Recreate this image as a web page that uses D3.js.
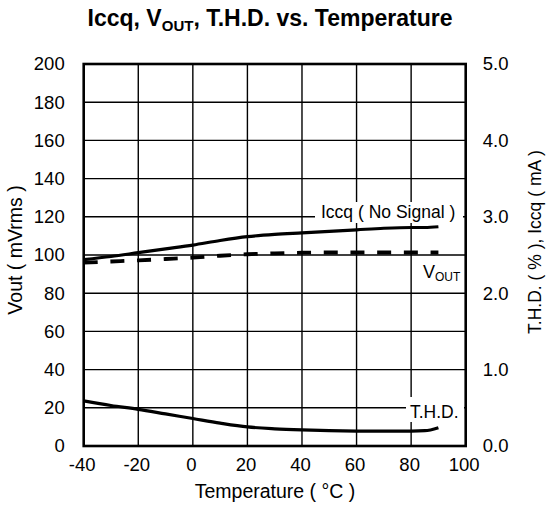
<!DOCTYPE html>
<html>
<head>
<meta charset="utf-8">
<script src="https://cdn.jsdelivr.net/npm/d3@7"></script>
<style>
  body { margin: 0; background: #fff; }
  svg text { font-family: "Liberation Sans", Arial, sans-serif; fill: #000; }
</style>
</head>
<body>
<svg id="chart" width="546" height="514"></svg>
<script>
// Temperature (°C)
const temps = [-40, -30, -20, -10, 0, 10, 20, 30, 40, 50, 60, 70, 80, 85, 90];
// Iccq (No Signal), mA (right axis)
const iccq = [2.44, 2.48, 2.53, 2.58, 2.63, 2.69, 2.74, 2.77, 2.79, 2.81, 2.83, 2.85, 2.86, 2.86, 2.87];
// Vout, mVrms (left axis)
const vout = [96.0, 96.6, 97.2, 97.9, 98.6, 99.6, 100.4, 100.9, 101.2, 101.3, 101.3, 101.3, 101.3, 101.3, 101.3];
// T.H.D., % (right axis)
const thd = [0.59, 0.53, 0.48, 0.42, 0.36, 0.30, 0.25, 0.225, 0.21, 0.2, 0.196, 0.195, 0.196, 0.2, 0.24];

const xTicks = [-40, -20, 0, 20, 40, 60, 80, 100];
const yLeftTicks = [0, 20, 40, 60, 80, 100, 120, 140, 160, 180, 200];
const yRightTicks = [0, 1, 2, 3, 4, 5];

const svg = d3.select("#chart");
const L = 83.7, R = 465.7, T = 64, B = 446;

const x = d3.scaleLinear().domain([-40, 100]).range([L, R]);
const yL = d3.scaleLinear().domain([0, 200]).range([B, T]);
const yR = d3.scaleLinear().domain([0, 5]).range([B, T]);

// Title
const title = svg.append("text")
  .attr("x", 270).attr("y", 26)
  .attr("text-anchor", "middle")
  .style("font-size", "23px").style("font-weight", "bold");
title.append("tspan").text("Iccq, V");
title.append("tspan").text("OUT").style("font-size", "15px").attr("dy", 5);
title.append("tspan").text(", T.H.D. vs. Temperature").attr("dy", -5);

// Grid
const grid = svg.append("g").attr("stroke", "#000").attr("stroke-width", 1.4);
grid.selectAll("line.v").data(xTicks.slice(1, -1)).join("line")
  .attr("x1", d => x(d)).attr("x2", d => x(d)).attr("y1", T).attr("y2", B);
grid.selectAll("line.h").data(yLeftTicks.slice(1, -1)).join("line")
  .attr("x1", L).attr("x2", R).attr("y1", d => yL(d)).attr("y2", d => yL(d));

// Label backgrounds (white boxes over grid)
svg.append("rect").attr("x", 315).attr("y", 202).attr("width", 148).attr("height", 21).attr("fill", "#fff");
svg.append("rect").attr("x", 406).attr("y", 397).attr("width", 58).attr("height", 25).attr("fill", "#fff");
svg.append("rect").attr("x", 420).attr("y", 260).attr("width", 44).attr("height", 26).attr("fill", "#fff");

// Curves
const lineIccq = d3.line().x((d, i) => x(temps[i])).y(d => yR(d)).curve(d3.curveMonotoneX);
const lineVout = d3.line().x((d, i) => x(temps[i])).y(d => yL(d)).curve(d3.curveMonotoneX);
const lineThd = d3.line().x((d, i) => x(temps[i])).y(d => yR(d)).curve(d3.curveMonotoneX);

svg.append("path").attr("d", lineIccq(iccq)).attr("fill", "none")
  .attr("stroke", "#000").attr("stroke-width", 3.2);
svg.append("path").attr("d", lineVout(vout)).attr("fill", "none")
  .attr("stroke", "#000").attr("stroke-width", 3.8).attr("stroke-dasharray", "14,12.7");
svg.append("path").attr("d", lineThd(thd)).attr("fill", "none")
  .attr("stroke", "#000").attr("stroke-width", 3.2);

// Frame
svg.append("rect").attr("x", L).attr("y", T).attr("width", R - L).attr("height", B - T)
  .attr("fill", "none").attr("stroke", "#000").attr("stroke-width", 2.6);

// Axes
const fmtInt = d => String(d);
const xAxis = d3.axisBottom(x).tickValues(xTicks).tickSize(0).tickPadding(12).tickFormat(fmtInt);
const gx = svg.append("g").attr("transform", `translate(0,${B})`).call(xAxis);
const yAxisL = d3.axisLeft(yL).tickValues(yLeftTicks).tickSize(0).tickPadding(19).tickFormat(fmtInt);
const gyl = svg.append("g").attr("transform", `translate(${L},0)`).call(yAxisL);
const yAxisR = d3.axisRight(yR).tickValues(yRightTicks).tickSize(0).tickPadding(17).tickFormat(d => d.toFixed(1));
const gyr = svg.append("g").attr("transform", `translate(${R},0)`).call(yAxisR);
[gx, gyl, gyr].forEach(g => {
  g.select(".domain").remove();
  g.selectAll("text").style("font-size", "18.5px").style("font-family", '"Liberation Sans", Arial, sans-serif');
});
gx.selectAll("text").attr("dx", "-2px");

// Axis titles
svg.append("text").attr("x", 275).attr("y", 498).attr("text-anchor", "middle")
  .style("font-size", "19.5px").text("Temperature ( °C )");
svg.append("text").attr("transform", "translate(22,250) rotate(-90)").attr("text-anchor", "middle")
  .style("font-size", "19.5px").text("Vout ( mVrms )");
svg.append("text").attr("transform", "translate(541,242) rotate(-90)").attr("text-anchor", "middle")
  .style("font-size", "17.5px").text("T.H.D. ( % ), Iccq ( mA )");

// Curve labels
svg.append("text").attr("x", 321).attr("y", 218).style("font-size", "17.5px").text("Iccq ( No Signal )");
const vl = svg.append("text").attr("x", 423).attr("y", 278).style("font-size", "18px");
vl.append("tspan").text("V");
vl.append("tspan").text("OUT").style("font-size", "12px").attr("dy", 3);
svg.append("text").attr("x", 410).attr("y", 418).style("font-size", "17.5px").text("T.H.D.");
</script>
</body>
</html>
